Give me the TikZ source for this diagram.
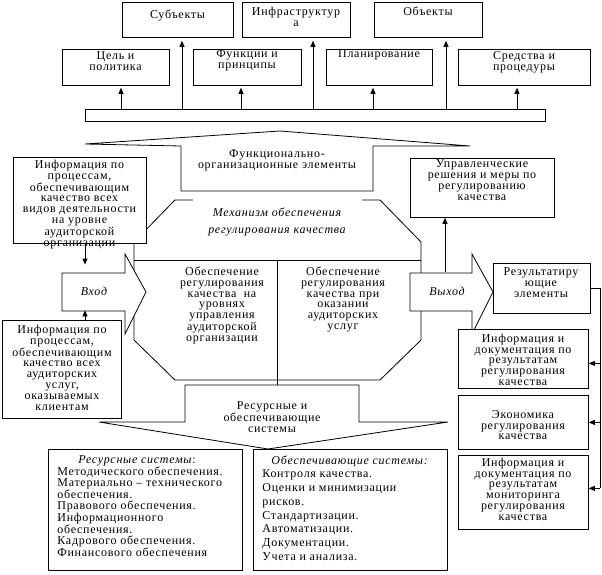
\documentclass[tikz,border=0pt]{standalone}
\usepackage{fontspec}
\setmainfont{Liberation Serif}[LetterSpace=6]
\usetikzlibrary{arrows.meta}

\begin{document}
\begin{tikzpicture}
  [%%%%%%%%%%%%%%%%%%%%%%%%%%%%%%
  x=1pt, y=-1pt, line width=0.8pt,
  box/.style={draw, fill=white, inner sep=0pt, anchor=north west},
  txt/.style={align=center, inner sep=0pt, anchor=north, font=\fontsize{12}{10.8}\selectfont},
  arr/.style={-{Triangle[length=6pt,width=5pt]}},
  ]%%%%%%%%%%%%%%%%%%%%%%%%%%%%%%
  \useasboundingbox (0,0) rectangle (602,574);
  % Top boxes
  \node[box, minimum width=111, minimum height=35] (subj) at (122,2) {};
  \node[box, minimum width=108, minimum height=35] (infra) at (242,2) {};
  \node[box, minimum width=108, minimum height=35] (obj) at (374,2) {};
  \node[txt] (subj-t) at (177.5,9.5) {Субъекты};
  \node[txt] (infra-t) at (296,6.5) {Инфраструктур\\а};
  \node[txt] (obj-t) at (428,6.5) {Объекты};
  \node[box, minimum width=107, minimum height=36] (goal) at (62,49) {};
  \node[box, minimum width=108, minimum height=36] (func) at (193,49) {};
  \node[box, minimum width=106, minimum height=36] (plan) at (326,49) {};
  \node[box, minimum width=132, minimum height=36] (means) at (458,49) {};
  \node[txt] (goal-t) at (115.5,51.5) {Цель и\\политика};
  \node[txt] (func-t) at (247,49.5) {Функции и\\принципы};
  \node[txt] (plan-t) at (379,49.5) {Планирование};
  \node[txt] (means-t) at (524,51.5) {Средства и\\процедуры};
  % Bar and its arrows
  \node[box, minimum width=460, minimum height=12] (bar) at (85,109) {};
  \foreach \b/\x/\g in {subj/182/3pt, infra/313/3pt, obj/446/3pt,
                        goal/121/2pt, func/241/2pt, plan/373/2pt, means/517/2pt}{
    \draw[arr, shorten >=\g] (\x,0 |- bar.north) -- (\x,0 |- \b.south);
  }
  % Functional elements
  \draw[fill=white] (85,144) -- (280,131) -- (470,146) -- (373,146) -- (373,191)
    -- (181,191) -- (181,146) -- cycle;
  \node[txt] (fe) at (277,149) {Функционально-\\организационные элементы};
  % Mechanism
  \draw (134,242) -- (175,200) -- (380,200) -- (421,242) -- (421,340) -- (380,380)
    -- (175,380) -- (134,340) -- cycle;
  \draw (134,260) -- (421,260);
  \draw (277,260) -- (277,385);
  \node[txt] (lvl) at (222,266.5) {Обеспечение\\регулирования\\качества~~на\\уровнях\\управления\\аудиторской\\организации};
  \node[txt] (srv) at (343,266.5) {Обеспечение\\регулирования\\качества при\\оказании\\аудиторских\\услуг};
  \node[txt, anchor=center, fill=white, minimum width=169, minimum height=50,
    font=\itshape\fontsize{12}{17}\selectfont] (mech) at (277,222) {Механизм обеспечения\\регулирования качества};
  % Input and output
  \draw[fill=white] (62,273) -- (125,273) -- (125,254) -- (146,292) -- (125,334)
    -- (125,311) -- (62,311) -- cycle;
  \node[txt, anchor=center, minimum width=63, minimum height=38,
    font=\itshape\fontsize{12}{10.8}\selectfont] (in) at (94,291) {Вход};
  \draw[fill=white] (410,273) -- (472,273) -- (472,254) -- (493,292) -- (472,334)
    -- (472,311) -- (410,311) -- cycle;
  \node[txt, anchor=center, minimum width=63, minimum height=38,
    font=\itshape\fontsize{12}{10.8}\selectfont] (out) at (447,291) {Выход};
  % Left boxes
  \node[box, minimum width=133, minimum height=86] (infoA) at (13,157) {};
  \node[txt] (infoA-t) at (79.5,159.5) {Информация по\\процессам,\\обеспечивающим\\качество всех\\видов деятельности\\на уровне\\аудиторской\\организации};
  \node[box, minimum width=119, minimum height=98] (infoB) at (2,320) {};
  \node[txt] (infoB-t) at (62,324.5) {Информация по\\процессам,\\обеспечивающим\\качество всех\\аудиторских\\услуг,\\оказываемых\\клиентам};
  \draw[arr, shorten >=7pt] (85,0 |- infoA.south) -- (85,0 |- in.north);
  \draw[arr] (85,0 |- infoB.north) -- (85,0 |- in.south);
  % Right boxes
  \node[box, minimum width=144, minimum height=59] (mgmt) at (410,158) {};
  \node[txt] (mgmt-t) at (482,159.5) {Управленческие\\решения и меры по\\регулированию\\качества};
  \draw[arr] (445,0 |- out.north) -- (445,0 |- mgmt.south);
  \node[box, minimum width=97, minimum height=50] (result) at (493,263) {};
  \node[txt] (result-t) at (541,267.5) {Результатиру\\ющие\\элементы};
  \node[box, minimum width=130, minimum height=59] (doc1) at (458,329) {};
  \node[txt] (doc1-t) at (523,333.5) {Информация и\\документация по\\результатам\\регулирования\\качества};
  \node[box, minimum width=130, minimum height=54] (econ) at (458,395) {};
  \node[txt] (econ-t) at (523,410) {Экономика\\регулирования\\качества};
  \node[box, minimum width=130, minimum height=74] (doc2) at (458,455) {};
  \node[txt] (doc2-t) at (523,457.5) {Информация и\\документация по\\результатам\\мониторинга\\регулирования\\качества};
  \draw (result.east) -- (600,0 |- result.east) coordinate (rr) -- ([yshift=4pt]rr |- doc2.east);
  \foreach \b/\s in {doc1/-4.5pt, econ/0pt, doc2/4pt}{
    \draw[arr] ([yshift=\s]rr |- \b.east) -- ([yshift=\s]\b.east);
  }
  % Resource and supporting systems
  \draw[fill=white] (185,385) -- (359,385) -- (359,422) -- (448,422) -- (268,449)
    -- (99,422) -- (185,422) -- cycle;
  \node[txt] (rs) at (272,401.5) {Ресурсные и\\обеспечивающие\\системы};
  \node[box, minimum width=194, minimum height=121] (resbox) at (48,449) {};
  \node[box, minimum width=194, minimum height=121] (supbox) at (253,449) {};
  \node[txt] (res-h) at (137,455.5) {\textit{Ресурсные системы}:};
  \node[txt, anchor=north west, align=left] (res-l) at (57,466.5) {Методического обеспечения.\\Материально – технического\\обеспечения.\\Правового обеспечения.\\Информационного\\обеспечения.\\Кадрового обеспечения.\\Финансового обеспечения};
  \node[txt] (sup-h) at (350,455.5) {\textit{Обеспечивающие системы:}};
  \node[txt, anchor=north west, align=left, font=\fontsize{12}{13.8}\selectfont] (sup-l) at (262,469.5) {Контроля качества.\\Оценки и минимизации\\рисков.\\Стандартизации.\\Автоматизации.\\Документации.\\Учета и анализа.};
\end{tikzpicture}
\end{document}
